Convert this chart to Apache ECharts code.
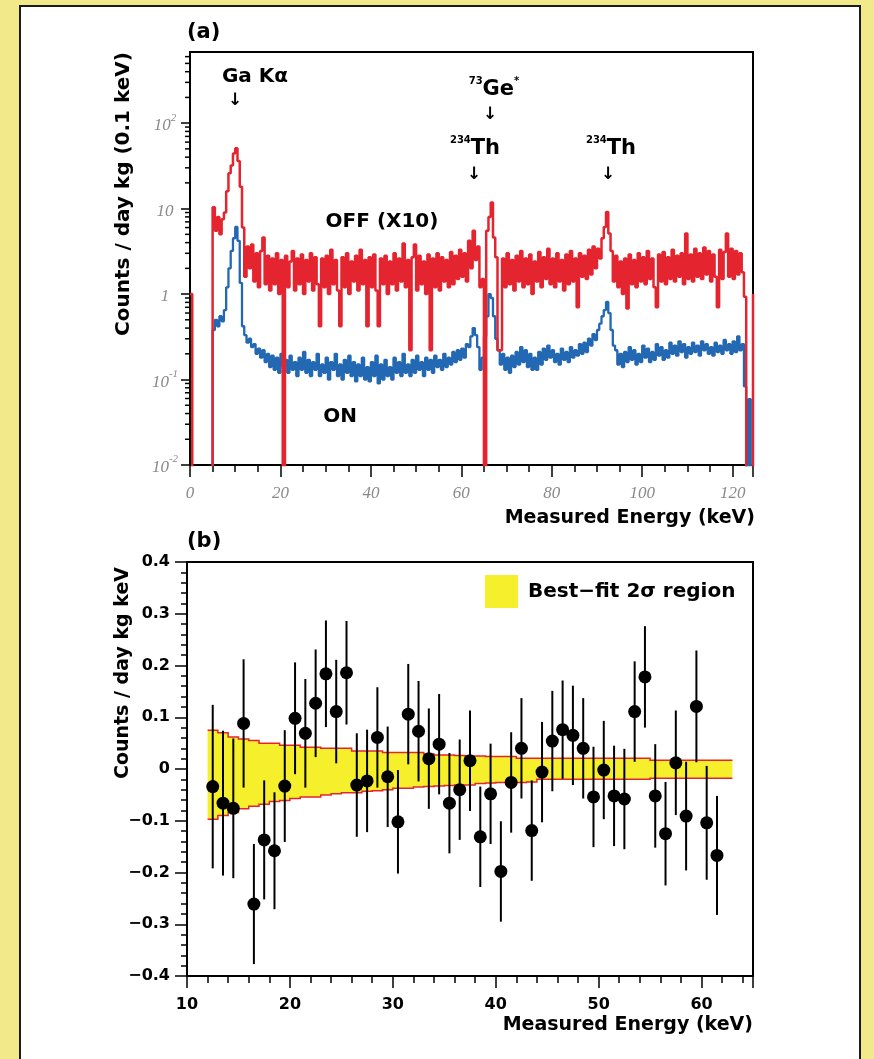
<!DOCTYPE html>
<html lang="en">
<head>
    <meta charset="UTF-8">
    <title>Ge spectrum and residuals</title>
    <style>
        html, body {
            margin: 0;
            padding: 0;
        }
        body {
            width: 874px;
            height: 1059px;
            overflow: hidden;
            position: relative;
            background: #f1e98a;
        }
        #frame {
            position: absolute;
            left: 19px;
            top: 5px;
            width: 838px;
            height: 1080px;
            background: #fff;
            border: 2px solid #1b1b1b;
        }
        #chart {
            position: absolute;
            left: 0;
            top: 0;
            width: 874px;
            height: 1059px;
        }
    </style>
    <script src="https://cdn.jsdelivr.net/npm/echarts@6.0.0/dist/echarts.min.js"></script>
</head>
<body>
    <div id="frame"></div>
    <div id="chart"></div>

    <script>
        // ---- panel (a): spectra, 0.5 keV bins from 0 keV ----
        const BIN_WIDTH = 0.5;
        const E = 0.001;   // empty bin (falls below the 10^-2 floor)

        // OFF spectrum, scaled x10
        const offTimes10 = [
            1.0, E, E, E, E, E, E, E, E, E,
            10.4, 5.5, 8.0, 5.0, 7.5, 9.0, 16, 26, 32, 44,
            51, 36, 18, 6.0, 1.6, 3.6, 2.0, 3.8, 1.4, 3.0,
            1.2, 3.2, 4.6, 1.3, 2.8, 1.1, 2.6, 1.3, 3.0, 1.0,
            2.5, E, 2.8, 1.2, 2.4, 3.2, 1.1, 2.6, 1.3, 2.9,
            1.0, 2.5, 1.4, 3.0, 1.1, 2.7, 1.3, 0.42, 2.6, 1.2,
            2.8, 1.0, 3.3, 1.3, 2.5, 1.1, 0.42, 2.7, 1.2, 3.0,
            1.0, 2.4, 1.4, 2.8, 1.1, 3.3, 1.3, 2.5, 0.42, 2.7,
            1.2, 2.9, 1.1, 0.42, 2.6, 1.3, 2.8, 1.0, 2.4, 1.3,
            3.0, 1.1, 2.6, 1.4, 3.9, 1.2, 2.5, 0.22, 2.7, 3.8,
            1.1, 2.8, 1.3, 2.4, 1.0, 2.9, 0.22, 2.6, 1.2, 3.0,
            1.1, 2.7, 1.4, 2.5, 1.2, 3.1, 1.3, 2.8, 1.5, 3.3,
            1.6, 3.0, 1.4, 4.2, 2.0, 5.5, 2.5, 3.6, 1.2, 1.5,
            E, 5.5, 8.0, 11.8, 4.6, 2.7, 0.22, 0.22, 2.6, 1.2,
            3.0, 1.3, 2.5, 1.1, 2.8, 1.4, 3.2, 1.2, 2.6, 1.3,
            2.9, 1.0, 2.4, 1.4, 3.1, 1.2, 2.7, 1.5, 3.4, 1.3,
            2.6, 1.2, 3.0, 1.4, 2.5, 1.1, 2.9, 1.3, 3.2, 1.4,
            2.6, 0.7, 3.0, 1.6, 2.8, 1.5, 3.3, 1.7, 3.6, 2.0,
            3.4, 2.6, 4.5, 6.1, 9.1, 5.1, 3.2, 1.4, 2.8, 1.2,
            2.4, 1.0, 2.6, 0.68, 2.9, 1.3, 2.5, 1.2, 3.0, 1.4,
            2.7, 1.3, 3.2, 1.5, 2.6, 1.2, 0.7, 2.9, 1.4, 3.1,
            1.3, 2.7, 1.5, 3.3, 1.4, 2.8, 1.6, 3.0, 1.3, 5.1,
            1.5, 2.9, 1.4, 3.4, 1.6, 3.0, 1.5, 3.5, 1.7, 3.2,
            1.4, 2.9, 1.6, 0.7, 3.3, 1.5, 3.1, 5.1, 1.6, 3.4,
            1.5, 3.2, 1.7, 3.0, 1.8, 0.93, E, E, E, 1.0
        ];

        // ON spectrum
        const onSpectrum = [
            E, E, E, E, E, E, E, E, E, E,
            0.38, 0.5, 0.42, 0.55, 0.48, 0.65, 1.2, 2.0, 3.2, 4.5,
            6.1, 4.2, 1.35, 0.42, 0.33, 0.27, 0.3, 0.24, 0.26, 0.2,
            0.23, 0.18, 0.22, 0.16, 0.2, 0.14, 0.19, 0.13, 0.18, 0.12,
            0.2, 0.14, 0.17, 0.12, 0.19, 0.13, 0.16, 0.11, 0.18, 0.13,
            0.21, 0.12, 0.17, 0.11, 0.16, 0.13, 0.2, 0.11, 0.15, 0.12,
            0.18, 0.1, 0.16, 0.13, 0.2, 0.11, 0.15, 0.1, 0.17, 0.12,
            0.19, 0.11, 0.16, 0.095, 0.15, 0.11, 0.18, 0.1, 0.14, 0.095,
            0.16, 0.11, 0.19, 0.09, 0.15, 0.1, 0.17, 0.11, 0.14, 0.1,
            0.18, 0.12, 0.16, 0.11, 0.2, 0.12, 0.15, 0.11, 0.17, 0.12,
            0.19, 0.13, 0.16, 0.11, 0.18, 0.13, 0.17, 0.12, 0.19, 0.14,
            0.17, 0.13, 0.2, 0.14, 0.18, 0.15, 0.21, 0.16, 0.22, 0.17,
            0.23, 0.18, 0.26, 0.24, 0.32, 0.4, 0.33, 0.24, 0.13, 0.18,
            0.32, 0.55, 1.0, 0.9, 0.55, 0.3, 0.22, 0.15, 0.2, 0.13,
            0.18, 0.12, 0.19, 0.14, 0.21, 0.15, 0.24, 0.16, 0.22, 0.14,
            0.2, 0.13, 0.18, 0.13, 0.21, 0.15, 0.23, 0.17, 0.25, 0.18,
            0.22, 0.16, 0.2, 0.15, 0.23, 0.17, 0.21, 0.16, 0.24, 0.18,
            0.22, 0.19, 0.26, 0.2, 0.27, 0.21, 0.3, 0.25, 0.34, 0.29,
            0.38, 0.45, 0.55, 0.65, 0.81, 0.6, 0.38, 0.25, 0.22, 0.15,
            0.2, 0.14, 0.21, 0.16, 0.24, 0.17, 0.22, 0.15, 0.2, 0.16,
            0.25, 0.18, 0.23, 0.16, 0.21, 0.17, 0.26, 0.19, 0.24, 0.17,
            0.22, 0.18, 0.27, 0.2, 0.25, 0.19, 0.28, 0.21, 0.26, 0.18,
            0.24, 0.2, 0.27, 0.21, 0.25, 0.19, 0.28, 0.22, 0.26, 0.2,
            0.24, 0.19, 0.27, 0.21, 0.25, 0.2, 0.29, 0.22, 0.26, 0.2,
            0.28, 0.21, 0.32, 0.22, 0.26, 0.083, E, 0.059, E
        ];

        // ---- panel (b): residuals, 1 keV bins ----
        const resEnergy = [
            12.5, 13.5, 14.5, 15.5, 16.5, 17.5, 18.5, 19.5, 20.5, 21.5,
            22.5, 23.5, 24.5, 25.5, 26.5, 27.5, 28.5, 29.5, 30.5, 31.5,
            32.5, 33.5, 34.5, 35.5, 36.5, 37.5, 38.5, 39.5, 40.5, 41.5,
            42.5, 43.5, 44.5, 45.5, 46.5, 47.5, 48.5, 49.5, 50.5, 51.5,
            52.5, 53.5, 54.5, 55.5, 56.5, 57.5, 58.5, 59.5, 60.5, 61.5
        ];
        const resValue = [
            -0.034, -0.066, -0.076, 0.088, -0.261, -0.137, -0.158, -0.033, 0.098, 0.069,
            0.127, 0.184, 0.111, 0.186, -0.031, -0.023, 0.061, -0.015, -0.102, 0.106,
            0.073, 0.020, 0.048, -0.066, -0.040, 0.016, -0.131, -0.048, -0.198, -0.026,
            0.040, -0.119, -0.006, 0.054, 0.076, 0.065, 0.040, -0.054, -0.002, -0.052,
            -0.058, 0.111, 0.178, -0.052, -0.125, 0.012, -0.091, 0.121, -0.104, -0.167
        ];
        const resError = [
            0.158, 0.140, 0.135, 0.124, 0.116, 0.115, 0.113, 0.108, 0.108, 0.105,
            0.104, 0.103, 0.100, 0.100, 0.100, 0.099, 0.097, 0.097, 0.100, 0.097,
            0.097, 0.097, 0.097, 0.097, 0.097, 0.097, 0.097, 0.097, 0.097, 0.097,
            0.097, 0.097, 0.097, 0.097, 0.095, 0.096, 0.097, 0.097, 0.095, 0.097,
            0.097, 0.097, 0.098, 0.100, 0.100, 0.101, 0.105, 0.108, 0.110, 0.115
        ];

        // best-fit 2 sigma band, 1 keV steps from 12 keV
        const BAND_FROM = 12;
        const BAND_STEP = 1;
        const bandUpper = [
            0.075, 0.070, 0.062, 0.058, 0.055, 0.050, 0.050, 0.046, 0.046, 0.042,
            0.042, 0.040, 0.040, 0.040, 0.035, 0.035, 0.035, 0.032, 0.032, 0.032,
            0.032, 0.029, 0.027, 0.027, 0.026, 0.025, 0.025, 0.024, 0.024, 0.024,
            0.021, 0.021, 0.021, 0.021, 0.021, 0.021, 0.021, 0.021, 0.021, 0.021,
            0.021, 0.021, 0.021, 0.017, 0.017, 0.017, 0.017, 0.017, 0.017, 0.017,
            0.017
        ];
        const bandLower = [
            -0.097, -0.090, -0.084, -0.077, -0.072, -0.068, -0.063, -0.061, -0.057, -0.054,
            -0.054, -0.050, -0.048, -0.046, -0.046, -0.043, -0.042, -0.040, -0.037, -0.037,
            -0.035, -0.034, -0.033, -0.032, -0.031, -0.031, -0.028, -0.027, -0.026, -0.026,
            -0.026, -0.025, -0.020, -0.020, -0.020, -0.020, -0.020, -0.020, -0.020, -0.020,
            -0.020, -0.020, -0.020, -0.018, -0.018, -0.018, -0.018, -0.018, -0.018, -0.018,
            -0.018
        ];

        const RED = '#e4252f';
        const BLUE = '#2368b3';
        const YELLOW = '#f6f02c';
        const BAND_NAME = 'Best\u2212fit 2\u03c3 region';

        const SANS = "'DejaVu Sans', sans-serif";
        const SERIF = "'Liberation Serif', serif";
        const GRAY = '#8a8a8a';

        const SPEC_MIN = 0.01;
        const SPEC_MAX = 680;

        const offData = offTimes10.map((v, i) => [i * BIN_WIDTH, v]);
        const onData = onSpectrum.map((v, i) => [i * BIN_WIDTH, v]);

        // log minor ticks 2..9 x 10^k
        const logMinor = [];
        for (let k = -2; k <= 2; k++) {
            for (let m = 2; m <= 9; m++) {
                const v = m * Math.pow(10, k);
                if (v < SPEC_MAX) logMinor.push(v);
            }
        }

        const axisLineStyle = { color: '#000', width: 2 };
        const tickStyle = { color: '#000', width: 1.5 };

        function grayLabel() {
            return {
                color: GRAY, fontFamily: SERIF, fontStyle: 'italic', fontSize: 17
            };
        }

        function boldLabel() {
            return {
                color: '#000', fontFamily: SANS, fontWeight: 'bold', fontSize: 16
            };
        }

        // isotope label: small raised mass number + symbol (+ optional mark)
        function isotopeRich() {
            return {
                s: { fontFamily: SANS, fontWeight: 'bold', fontSize: 10, fill: '#000',
                     lineHeight: 12, verticalAlign: 'top' },
                b: { fontFamily: SANS, fontWeight: 'bold', fontSize: 21, fill: '#000',
                     lineHeight: 24, verticalAlign: 'bottom' }
            };
        }

        function arrow(x, y) {
            return {
                type: 'text', x: x, y: y,
                style: { text: '\u2193', fill: '#000', align: 'center', verticalAlign: 'middle',
                         font: "bold 17px 'DejaVu Sans'" }
            };
        }

        const chart = echarts.init(document.getElementById('chart'));

        const option = {
            backgroundColor: 'transparent',
            animation: false,
            grid: [
                { left: 190, top: 52, width: 563, height: 413, show: true,
                  borderColor: '#000', borderWidth: 2, outerBoundsMode: 'none' },
                { left: 187, top: 562, width: 566, height: 414, show: true,
                  borderColor: '#000', borderWidth: 2, outerBoundsMode: 'none' }
            ],
            legend: {
                data: [{ name: BAND_NAME, icon: 'rect' }],
                left: 485,
                top: 575,
                padding: 0,
                itemWidth: 33,
                itemHeight: 33,
                selectedMode: false,
                textStyle: {
                    color: '#000', fontFamily: SANS, fontWeight: 'bold', fontSize: 20,
                    padding: [0, 0, 0, 5]
                }
            },
            xAxis: [
                {
                    type: 'value', gridIndex: 0, min: 0, max: 124.5, interval: 20,
                    axisLine: { onZero: false, lineStyle: axisLineStyle },
                    axisTick: { length: 12, lineStyle: tickStyle },
                    minorTick: { show: true, splitNumber: 4, length: 7, lineStyle: tickStyle },
                    splitLine: { show: false },
                    axisLabel: Object.assign(grayLabel(), { margin: 20, showMaxLabel: false })
                },
                {
                    type: 'value', gridIndex: 1, min: 10, max: 65, interval: 10,
                    axisLine: { onZero: false, lineStyle: axisLineStyle },
                    axisTick: { length: 12, lineStyle: tickStyle },
                    minorTick: { show: true, splitNumber: 5, length: 7, lineStyle: tickStyle },
                    splitLine: { show: false },
                    axisLabel: Object.assign(boldLabel(), { margin: 21, showMaxLabel: false })
                }
            ],
            yAxis: [
                {
                    type: 'log', gridIndex: 0, logBase: 10, min: SPEC_MIN, max: SPEC_MAX,
                    axisLine: { onZero: false, lineStyle: axisLineStyle },
                    axisTick: { length: 9, lineStyle: tickStyle },
                    splitLine: { show: false },
                    axisLabel: {
                        margin: 25,
                        align: 'center',
                        showMaxLabel: false,
                        formatter: function (v) {
                            const k = Math.round(Math.log10(v));
                            if (k === 0) return '{b|1}';
                            if (k === 1) return '{b|10}';
                            return '{b|10}{s|' + k + '}';
                        },
                        rich: {
                            b: { color: GRAY, fontFamily: SERIF, fontStyle: 'italic', fontSize: 17,
                                 lineHeight: 22, verticalAlign: 'bottom' },
                            s: { color: GRAY, fontFamily: SERIF, fontStyle: 'italic', fontSize: 11,
                                 lineHeight: 12, verticalAlign: 'top' }
                        }
                    }
                },
                {
                    type: 'value', gridIndex: 1, min: -0.4, max: 0.4, interval: 0.1,
                    axisLine: { onZero: false, lineStyle: axisLineStyle },
                    axisTick: { length: 12, lineStyle: tickStyle },
                    minorTick: { show: true, splitNumber: 5, length: 6, lineStyle: tickStyle },
                    splitLine: { show: false },
                    axisLabel: Object.assign(boldLabel(), {
                        margin: 17,
                        formatter: function (v) {
                            if (Math.abs(v) < 1e-9) return '0';
                            return (v < 0 ? '\u2212' : '') + Math.abs(v).toFixed(1);
                        }
                    })
                }
            ],
            series: [
                // log minor ticks on panel (a)
                {
                    type: 'custom', xAxisIndex: 0, yAxisIndex: 0, silent: true, clip: false,
                    data: logMinor.map(v => [0, v]),
                    renderItem: function (params, api) {
                        const p = api.coord([api.value(0), api.value(1)]);
                        return {
                            type: 'line',
                            shape: { x1: p[0] - 5, y1: p[1], x2: p[0], y2: p[1] },
                            style: { stroke: '#000', lineWidth: 1.5 }
                        };
                    }
                },
                {
                    name: 'ON', type: 'line', xAxisIndex: 0, yAxisIndex: 0,
                    data: onData, step: 'end', showSymbol: false, symbol: 'none',
                    lineStyle: { color: BLUE, width: 2.3 }, itemStyle: { color: BLUE }
                },
                {
                    name: 'OFF (X10)', type: 'line', xAxisIndex: 0, yAxisIndex: 0,
                    data: offData, step: 'end', showSymbol: false, symbol: 'none',
                    lineStyle: { color: RED, width: 2.5 }, itemStyle: { color: RED }
                },
                // 2 sigma band on panel (b)
                {
                    name: BAND_NAME, type: 'custom', xAxisIndex: 1, yAxisIndex: 1, silent: true,
                    itemStyle: { color: YELLOW },
                    data: [[BAND_FROM, 0]],
                    renderItem: function (params, api) {
                        const top = [];
                        const bottom = [];
                        for (let i = 0; i < bandUpper.length; i++) {
                            const x0 = BAND_FROM + i * BAND_STEP;
                            const x1 = x0 + BAND_STEP;
                            top.push(api.coord([x0, bandUpper[i]]), api.coord([x1, bandUpper[i]]));
                            bottom.push(api.coord([x0, bandLower[i]]), api.coord([x1, bandLower[i]]));
                        }
                        return {
                            type: 'group',
                            children: [
                                { type: 'polygon', shape: { points: top.concat(bottom.slice().reverse()) },
                                  style: { fill: YELLOW } },
                                { type: 'polyline', shape: { points: top },
                                  style: { stroke: RED, lineWidth: 1.5, fill: null } },
                                { type: 'polyline', shape: { points: bottom },
                                  style: { stroke: RED, lineWidth: 1.5, fill: null } }
                            ]
                        };
                    }
                },
                // error bars
                {
                    type: 'custom', xAxisIndex: 1, yAxisIndex: 1, silent: true,
                    data: resEnergy.map((x, i) => [x, resValue[i], resError[i]]),
                    renderItem: function (params, api) {
                        const x = api.value(0), y = api.value(1), e = api.value(2);
                        const lo = api.coord([x, y - e]);
                        const hi = api.coord([x, y + e]);
                        return {
                            type: 'line',
                            shape: { x1: lo[0], y1: lo[1], x2: hi[0], y2: hi[1] },
                            style: { stroke: '#000', lineWidth: 2 }
                        };
                    }
                },
                {
                    type: 'scatter', xAxisIndex: 1, yAxisIndex: 1,
                    data: resEnergy.map((x, i) => [x, resValue[i]]),
                    symbol: 'circle', symbolSize: 13,
                    itemStyle: { color: '#000', opacity: 1 }
                }
            ],
            graphic: [
                // panel labels
                { type: 'text', left: 187, top: 22, style: { text: '(a)', fill: '#000',
                  font: "bold 21px 'DejaVu Sans'" } },
                { type: 'text', left: 187, top: 531, style: { text: '(b)', fill: '#000',
                  font: "bold 21px 'DejaVu Sans'" } },

                // axis titles
                { type: 'text', x: 124, y: 194, rotation: Math.PI / 2,
                  style: { text: 'Counts / day kg (0.1 keV)', fill: '#000', align: 'center',
                           verticalAlign: 'middle', font: "bold 20px 'DejaVu Sans'" } },
                { type: 'text', x: 755, y: 518,
                  style: { text: 'Measured Energy (keV)', fill: '#000', align: 'right',
                           verticalAlign: 'middle', font: "bold 19px 'DejaVu Sans'" } },
                { type: 'text', x: 123, y: 673, rotation: Math.PI / 2,
                  style: { text: 'Counts / day kg keV', fill: '#000', align: 'center',
                           verticalAlign: 'middle', font: "bold 19px 'DejaVu Sans'" } },
                { type: 'text', x: 753, y: 1025,
                  style: { text: 'Measured Energy (keV)', fill: '#000', align: 'right',
                           verticalAlign: 'middle', font: "bold 19px 'DejaVu Sans'" } },

                // spectrum annotations
                { type: 'text', x: 255, y: 77,
                  style: { text: 'Ga K\u03b1', fill: '#000', align: 'center', verticalAlign: 'middle',
                           font: "bold 20px 'DejaVu Sans'" } },
                arrow(235, 101),
                { type: 'text', x: 494, y: 88,
                  style: { text: '{s|73}{b|Ge}{s|*}', fill: '#000', align: 'center',
                           verticalAlign: 'middle', rich: isotopeRich() } },
                arrow(490, 115),
                { type: 'text', x: 475, y: 147,
                  style: { text: '{s|234}{b|Th}', fill: '#000', align: 'center',
                           verticalAlign: 'middle', rich: isotopeRich() } },
                arrow(474, 175),
                { type: 'text', x: 611, y: 147,
                  style: { text: '{s|234}{b|Th}', fill: '#000', align: 'center',
                           verticalAlign: 'middle', rich: isotopeRich() } },
                arrow(608, 175),
                { type: 'text', x: 382, y: 222,
                  style: { text: 'OFF (X10)', fill: '#000', align: 'center', verticalAlign: 'middle',
                           font: "bold 20px 'DejaVu Sans'" } },
                { type: 'text', x: 340, y: 417,
                  style: { text: 'ON', fill: '#000', align: 'center', verticalAlign: 'middle',
                           font: "bold 20px 'DejaVu Sans'" } }
            ]
        };

        chart.setOption(option);
    </script>
</body>
</html>
